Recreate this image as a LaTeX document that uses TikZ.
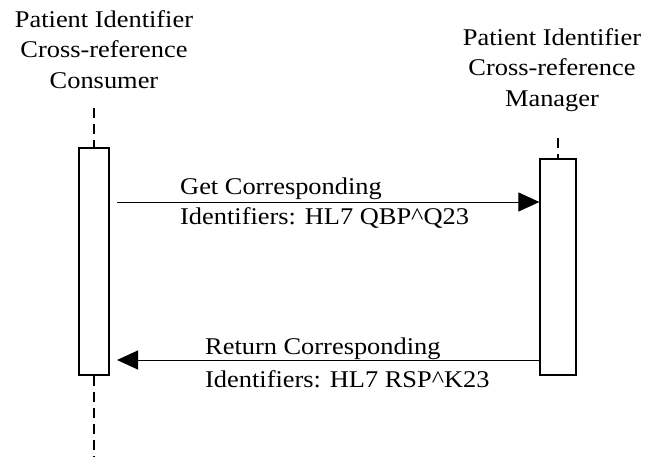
\documentclass[tikz,border=0pt]{standalone}
\usepackage{fontspec}
\newfontfamily\lbl[FakeStretch=1.1]{Liberation Serif}
\usetikzlibrary{arrows.meta}
\tikzset{
  actbox/.style={draw=black, line width=1.2pt, fill=white, inner sep=0pt},
  life/.style={line width=1.2pt, dash pattern=on 10pt off 6pt},
  msg/.style={line width=1pt, -{Triangle[length=21pt,width=19pt]}},
  title/.style={align=center, inner sep=0pt, anchor=north, font=\lbl\fontsize{24}{30.5}\selectfont},
  label/.style={align=left, inner sep=0pt, anchor=north west, font=\lbl\fontsize{24}{30}\selectfont}
}
\begin{document}
\begin{tikzpicture}[x=1pt,y=-1pt]
\useasboundingbox (0,0) rectangle (650,456);
% actors
\node[title] (ctitle) at (104,10) {Patient Identifier\\Cross-reference\\Consumer};
\node[title] (mtitle) at (552,28) {Patient Identifier\\Cross-reference\\Manager};
% activation boxes
\node[actbox, minimum width=30pt, minimum height=227pt] (lbox) at (94,261.5) {};
\node[actbox, minimum width=36pt, minimum height=216pt] (rbox) at (558,267) {};
% lifelines
\coordinate (ltop) at (94,108);
\coordinate (lbot) at (94,456);
\coordinate (rtop) at (558,138);
\draw[life] (ltop) -- (lbox.north);
\draw[life] (lbox.south) -- (lbot);
\draw[life] (rtop) -- (rbox.north);
% messages
\coordinate (m1s) at (117,202);
\coordinate (m2e) at (117,360);
\draw[msg] (m1s) -- (m1s -| rbox.west);
\draw[msg] (m2e -| rbox.west) -- (m2e);
\node[label] (m1) at (180,178) {Get Corresponding\\Identifiers: HL7 QBP\^{}Q23};
\node[label, font=\lbl\fontsize{24}{33}\selectfont] (m2) at (205,338) {Return Corresponding\\Identifiers: HL7 RSP\^{}K23};
\end{tikzpicture}
\end{document}
